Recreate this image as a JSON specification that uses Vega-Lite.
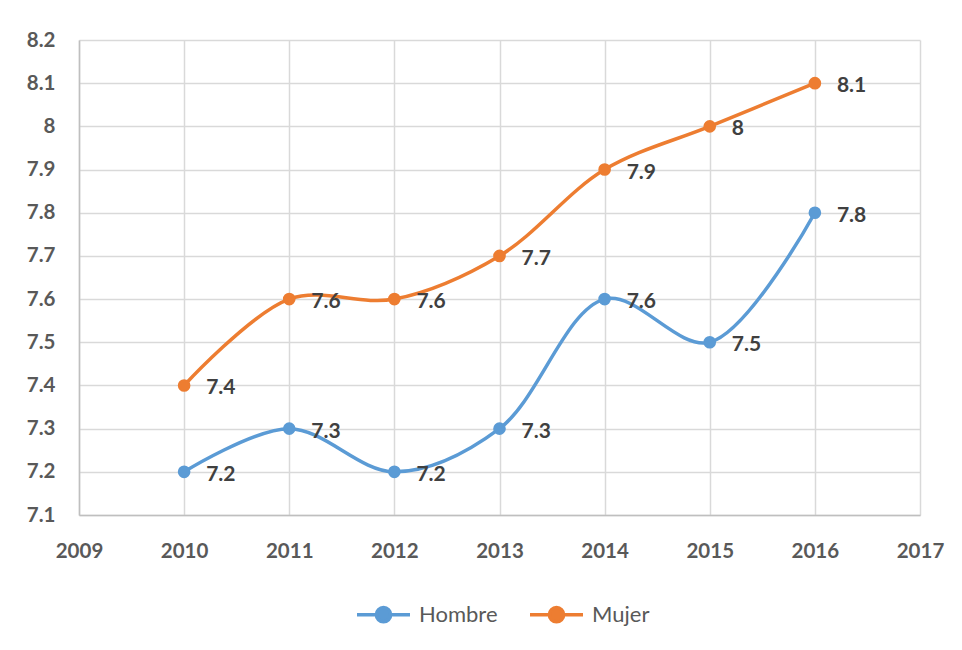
{
  "$schema": "https://vega.github.io/schema/vega-lite/v6.json",
  "width": 841,
  "height": 475,
  "autosize": {"type": "none"},
  "padding": {"left": 79, "top": 40, "right": 42, "bottom": 135},
  "background": "white",
  "config": {
    "font": "Lato",
    "view": {"stroke": null},
    "axis": {"gridColor": "#d9d9d9", "gridWidth": 1.5, "domainColor": "#bfbfbf", "domainWidth": 1.5, "ticks": false, "labelFont": "Lato", "labelFontWeight": "bold", "labelFontSize": 20.5, "labelColor": "#595959", "title": null}
  },
  "data": {"values": [
    {"year": 2010, "serie": "Hombre", "v": 7.2},
    {"year": 2011, "serie": "Hombre", "v": 7.3},
    {"year": 2012, "serie": "Hombre", "v": 7.2},
    {"year": 2013, "serie": "Hombre", "v": 7.3},
    {"year": 2014, "serie": "Hombre", "v": 7.6},
    {"year": 2015, "serie": "Hombre", "v": 7.5},
    {"year": 2016, "serie": "Hombre", "v": 7.8},
    {"year": 2010, "serie": "Mujer", "v": 7.4},
    {"year": 2011, "serie": "Mujer", "v": 7.6},
    {"year": 2012, "serie": "Mujer", "v": 7.6},
    {"year": 2013, "serie": "Mujer", "v": 7.7},
    {"year": 2014, "serie": "Mujer", "v": 7.9},
    {"year": 2015, "serie": "Mujer", "v": 8.0},
    {"year": 2016, "serie": "Mujer", "v": 8.1}
  ]},
  "encoding": {
    "x": {"field": "year", "type": "quantitative", "scale": {"domain": [2009, 2017], "nice": false, "zero": false},
      "axis": {"values": [2009, 2010, 2011, 2012, 2013, 2014, 2015, 2016, 2017], "format": "d", "labelPadding": 26, "labelFlush": false}},
    "y": {"field": "v", "type": "quantitative", "scale": {"domain": [7.1, 8.2], "nice": false, "zero": false},
      "axis": {"values": [7.1, 7.2, 7.3, 7.4, 7.5, 7.6, 7.7, 7.8, 7.9, 8.0, 8.1, 8.2], "format": "~g", "labelPadding": 24}},
    "color": {"field": "serie", "type": "nominal", "scale": {"domain": ["Hombre", "Mujer"], "range": ["#5b9bd5", "#ed7d31"]},
      "legend": {"orient": "none", "legendX": 276, "legendY": 546, "direction": "horizontal", "title": null,
        "symbolType": "M-1,0L-0.27,0M0.27,0A0.27,0.27,0,1,1,-0.27,0A0.27,0.27,0,1,1,0.27,0M0.27,0L1,0",
        "symbolSize": 2809, "symbolStrokeWidth": 3.5, "labelFontSize": 22, "labelColor": "#595959", "labelFont": "Lato", "labelOffset": 7, "columnPadding": 25,
        "encode": {"symbols": {"update": {"fill": {"scale": "color", "field": "value"}, "stroke": {"scale": "color", "field": "value"}, "opacity": {"value": 1}}}}}}
  },
  "layer": [
    {"mark": {"type": "line", "interpolate": "catmull-rom", "strokeWidth": 3.5}},
    {"mark": {"type": "point", "filled": true, "size": 160, "opacity": 1}},
    {"mark": {"type": "text", "align": "left", "baseline": "middle", "dx": 22, "dy": 3, "fontSize": 21, "fontWeight": "bold", "font": "Lato", "color": "#404040"},
      "encoding": {"text": {"field": "v", "type": "quantitative", "format": "~g"}, "color": {"value": "#404040"}}}
  ]
}
